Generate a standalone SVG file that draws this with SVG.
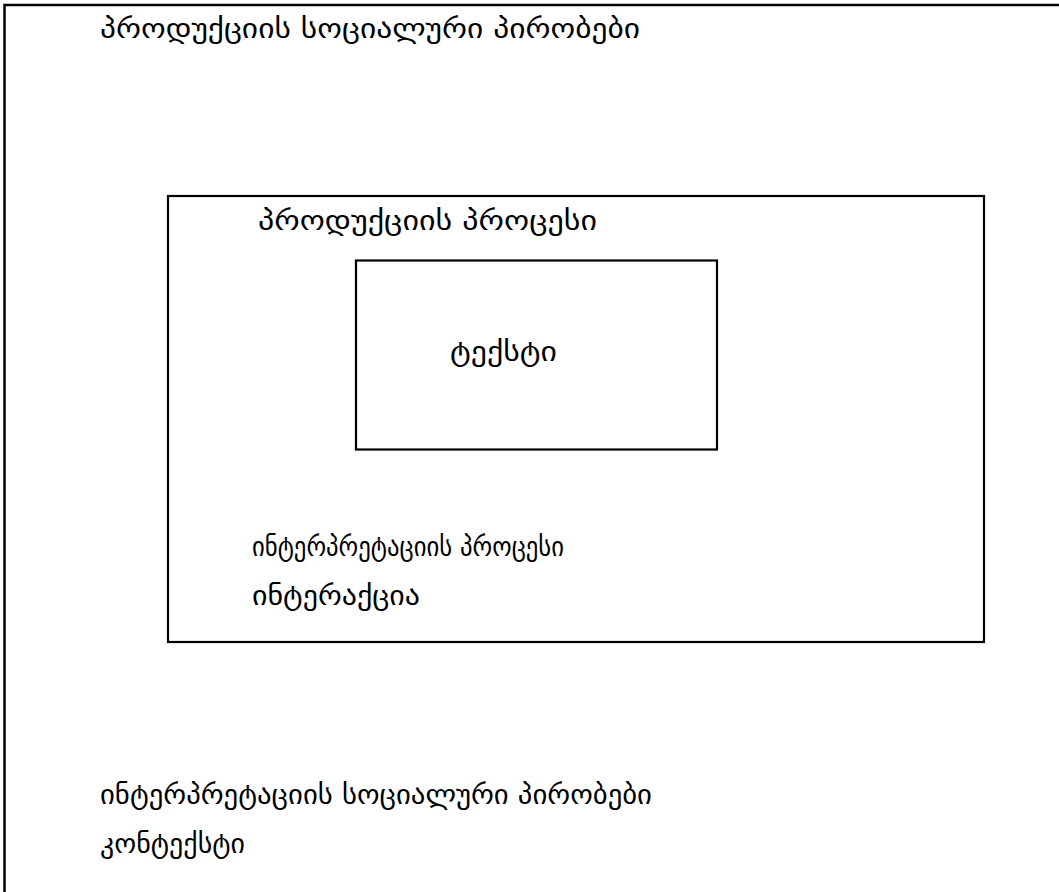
<svg xmlns="http://www.w3.org/2000/svg" width="1059" height="892" viewBox="0 0 1059 892">
<style>
.t{font-family:"DejaVu Sans","DejaVu Serif",sans-serif;font-size:27px;fill:#000}
.b{fill:none;stroke:#000}
</style>
<rect width="1059" height="892" fill="#fff"/>
<g id="outer">
<rect class="b" x="4.5" y="5" width="1060" height="900" stroke-width="2.5"/>
<text class="t" x="100" y="38" textLength="540" lengthAdjust="spacingAndGlyphs">პროდუქციის სოციალური პირობები</text>
<text class="t" x="100" y="804" textLength="552" lengthAdjust="spacingAndGlyphs">ინტერპრეტაციის სოციალური პირობები</text>
<text class="t" x="100" y="853" textLength="145" lengthAdjust="spacingAndGlyphs">კონტექსტი</text>
</g>
<g id="process">
<rect class="b" x="168" y="196" width="816" height="446" stroke-width="2.2"/>
<text class="t" x="258" y="230" textLength="339" lengthAdjust="spacingAndGlyphs">პროდუქციის პროცესი</text>
<text class="t" x="252" y="556" textLength="312" lengthAdjust="spacingAndGlyphs">ინტერპრეტაციის პროცესი</text>
<text class="t" x="252" y="605" textLength="168" lengthAdjust="spacingAndGlyphs">ინტერაქცია</text>
</g>
<g id="text-node">
<rect class="b" x="356" y="260.5" width="361" height="189" stroke-width="2.2"/>
<text class="t" x="450" y="361" textLength="107" lengthAdjust="spacingAndGlyphs">ტექსტი</text>
</g>
</svg>
